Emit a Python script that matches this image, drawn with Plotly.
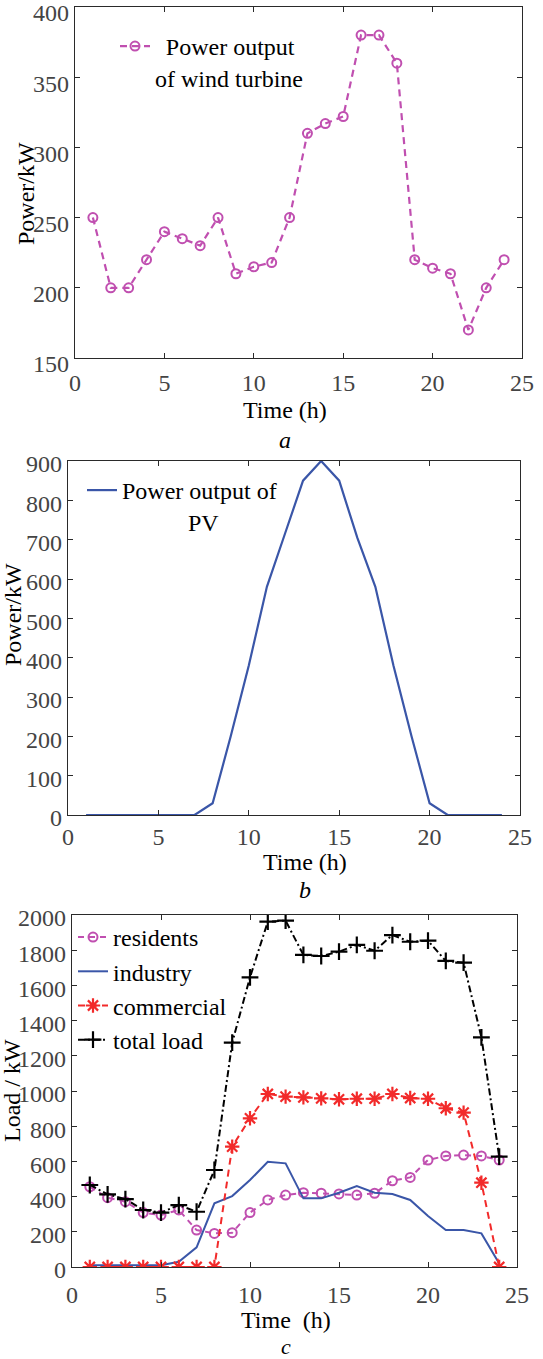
import plotly.graph_objects as go

W, H = 543, 1359

hours = list(range(1, 25))
wind = [250, 200, 200, 220, 240, 235, 230, 250, 210, 215, 218, 250,
        310, 317, 322, 380, 380, 360, 220, 214, 210, 170, 200, 220]
pv = [0, 0, 0, 0, 0, 0, 0, 30, 200, 380, 580, 715,
      850, 900, 850, 705, 580, 380, 200, 30, 0, 0, 0, 0]
residents = [456, 394, 371, 309, 295, 324, 210, 191, 195, 309, 381, 409,
             422, 419, 415, 409, 419, 490, 509, 608, 631, 636, 631, 608]
industry = [10, 10, 10, 10, 10, 30, 112, 362, 403, 494, 598, 589,
            390, 390, 422, 460, 422, 415, 381, 290, 210, 210, 191, 20]
commercial = [0, 0, 0, 0, 0, 0, 0, 0, 684, 845, 983, 968,
              964, 958, 953, 956, 956, 983, 960, 956, 902, 877, 479, 0]
total = [466, 413, 386, 324, 309, 352, 314, 551, 1275, 1646, 1962, 1968,
         1773, 1767, 1792, 1830, 1797, 1886, 1848, 1854, 1739, 1729, 1305, 627]

xticks = [0, 5, 10, 15, 20, 25]
yticks_a = [150, 200, 250, 300, 350, 400]
yticks_b = [0, 100, 200, 300, 400, 500, 600, 700, 800, 900]
yticks_c = [0, 200, 400, 600, 800, 1000, 1200, 1400, 1600, 1800, 2000]

PURPLE = "#C04FB0"
BLUE = "#3A56A8"
RED = "#F22A2A"
FONT = "Liberation Serif, Times New Roman, DejaVu Serif, serif"


def px(x):
    return x / W


def py(y):
    return 1 - y / H


fig = go.Figure()

# panel a
fig.add_trace(go.Scatter(
    x=hours, y=wind, mode="lines+markers", xaxis="x", yaxis="y",
    name="\u00a0\u2009Power output<br>of wind turbine",
    line=dict(color=PURPLE, width=2.2, dash="7px,5px"),
    marker=dict(symbol="circle-open", size=9, color=PURPLE, line=dict(width=2)),
    legend="legend"))

# panel b
fig.add_trace(go.Scatter(
    x=hours, y=pv, mode="lines", xaxis="x2", yaxis="y2",
    name="Power output of<br>" + "\u00a0" * 11 + "PV",
    line=dict(color=BLUE, width=2.2),
    legend="legend2"))

# panel c
fig.add_trace(go.Scatter(
    x=hours, y=residents, mode="lines+markers", xaxis="x3", yaxis="y3",
    name="residents",
    line=dict(color=PURPLE, width=2, dash="6px,5px"),
    marker=dict(symbol="circle-open", size=9, color=PURPLE, line=dict(width=2)),
    legend="legend3"))
fig.add_trace(go.Scatter(
    x=hours, y=industry, mode="lines", xaxis="x3", yaxis="y3",
    name="industry",
    line=dict(color=BLUE, width=2),
    legend="legend3"))
fig.add_trace(go.Scatter(
    x=hours, y=commercial, mode="lines+markers", xaxis="x3", yaxis="y3",
    name="commercial",
    line=dict(color=RED, width=2, dash="7px,5px"),
    marker=dict(symbol="asterisk-open", size=12, color=RED, line=dict(width=2.2, color=RED)),
    legend="legend3"))
fig.add_trace(go.Scatter(
    x=hours, y=total, mode="lines+markers", xaxis="x3", yaxis="y3",
    name="total load",
    line=dict(color="black", width=2, dash="7px,3px,2px,3px"),
    marker=dict(symbol="cross-thin-open", size=12, color="black", line=dict(width=2.2, color="black")),
    legend="legend3"))

axis_common = dict(
    showline=True, linecolor="#2a2a2a", linewidth=1.2, mirror="ticks",
    ticks="inside", ticklen=5, tickwidth=1, tickcolor="#2a2a2a",
    showgrid=False, zeroline=False, automargin=False,
    ticklabeloverflow="allow",
    tickfont=dict(family=FONT, size=24, color="#444444"),
)

fig.update_layout(
    width=W, height=H,
    margin=dict(l=0, r=0, t=0, b=0, autoexpand=False),
    paper_bgcolor="white", plot_bgcolor="white",
    font=dict(family=FONT, size=24, color="black"),
    xaxis=dict(domain=[px(75), px(522)], range=[0, 25], tickvals=xticks,
               anchor="y", ticklabelstandoff=3, **axis_common),
    yaxis=dict(domain=[py(358), py(7)], range=[150, 400], tickvals=yticks_a,
               anchor="x", ticklabelshift=6, **axis_common),
    xaxis2=dict(domain=[px(68), px(520)], range=[0, 25], tickvals=xticks,
                anchor="y2", ticklabelstandoff=0, **axis_common),
    yaxis2=dict(domain=[py(815), py(461)], range=[0, 900], tickvals=yticks_b,
                anchor="x2", ticklabelshift=3, **axis_common),
    xaxis3=dict(domain=[px(72), px(517)], range=[0, 25], tickvals=xticks,
                anchor="y3", ticklabelstandoff=6, **axis_common),
    yaxis3=dict(domain=[py(1267), py(915)], range=[0, 2000], tickvals=yticks_c,
                anchor="x3", ticklabelshift=3, **axis_common),
    legend=dict(x=px(115), y=py(24), xanchor="left", yanchor="top",
                bgcolor="rgba(0,0,0,0)", valign="top",
                font=dict(family=FONT, size=24, color="black")),
    legend2=dict(x=px(82), y=py(468), xanchor="left", yanchor="top",
                 bgcolor="rgba(0,0,0,0)", valign="top",
                 font=dict(family=FONT, size=24, color="black")),
    legend3=dict(x=px(73), y=py(915), xanchor="left", yanchor="top",
                 bgcolor="rgba(0,0,0,0)", tracegroupgap=0,
                 font=dict(family=FONT, size=24, color="black")),
    showlegend=True,
)

annots = [
    ("Power/kW", 26, 194, -90, False, 24),
    ("Time (h)", 285, 410, 0, False, 24),
    ("a", 285, 440, 0, True, 24),
    ("Power/kW", 13, 615, -90, False, 24),
    ("Time (h)", 305, 862, 0, False, 24),
    ("b", 305, 890, 0, True, 24),
    ("Load / kW", 12, 1091, -90, False, 24),
    ("Time\u00a0 (h)", 286, 1320, 0, False, 24),
    ("c", 286, 1346, 0, True, 22),
]
for text, x, y, ang, ital, fs in annots:
    fig.add_annotation(
        text=("<i>%s</i>" % text) if ital else text,
        x=px(x), y=py(y), xref="paper", yref="paper",
        xanchor="center", yanchor="middle", showarrow=False, textangle=ang,
        font=dict(family=FONT, size=fs, color="black"))

fig.write_html("out.html", config={"displayModeBar": False},
               post_script="document.body.style.margin='0';document.body.style.padding='0';")
